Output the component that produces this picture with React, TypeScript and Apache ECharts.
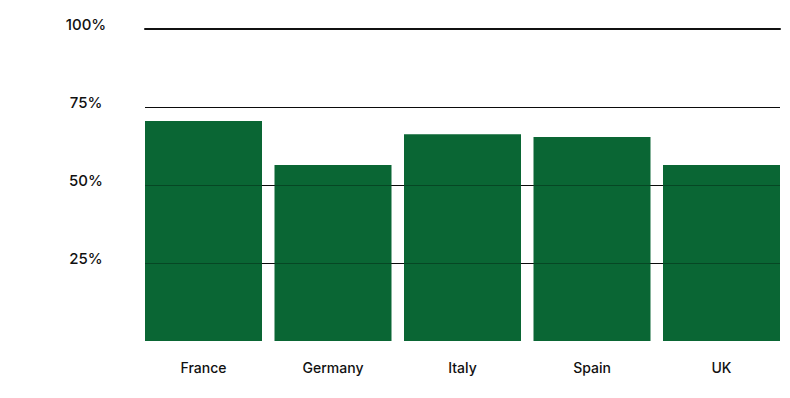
import React, { useEffect, useRef } from "react";
import * as echarts from "echarts";

const categories = ["France", "Germany", "Italy", "Spain", "UK"];
const values = [70.5, 56.4, 66.3, 65.4, 56.4];
const yTicks = [25, 50, 75, 100];

const font = "Inter, 'Noto Sans', sans-serif";

export default function App() {
  const ref = useRef<HTMLDivElement>(null);
  useEffect(() => {
    const chart = echarts.init(ref.current!, null, { renderer: "svg" });
    const labelFmt = (v: number) => (yTicks.includes(v) ? v + "%" : "");
    chart.setOption({
      animation: false,
      grid: [
        { left: 145, right: 10, top: 29, bottom: 57 },
        { left: 138.75, right: 3.75, top: 29, bottom: 57 },
      ],
      xAxis: [
        {
          gridIndex: 0,
          type: "value",
          min: 0,
          max: 1,
          position: "top",
          axisLine: { show: true, onZero: false, lineStyle: { color: "#111", width: 2 } },
          axisTick: { show: false },
          axisLabel: { show: false },
          splitLine: { show: false },
          z: 5,
        },
        {
          gridIndex: 1,
          type: "category",
          data: categories,
          axisLine: { show: false },
          axisTick: { show: false },
          axisLabel: {
            color: "#111",
            fontFamily: font,
            fontSize: 14,
            fontWeight: 500,
            margin: 19,
          },
        },
      ],
      yAxis: [
        {
          gridIndex: 0,
          type: "value",
          min: 0,
          max: 100,
          interval: 25,
          axisLine: { show: false },
          axisTick: { show: false },
          splitLine: {
            show: true,
            lineStyle: { color: ["transparent", "#111", "#111", "#111", "#111"], width: 1 },
          },
          axisLabel: {
            formatter: labelFmt,
            color: "#111",
            fontFamily: font,
            fontSize: 15,
            fontWeight: 500,
            align: "center",
            margin: 59,
            verticalAlign: "bottom",
            lineHeight: 10,
          },
        },
        {
          gridIndex: 0,
          type: "value",
          min: 0,
          max: 100,
          interval: 25,
          position: "left",
          axisLine: { show: false },
          axisTick: { show: false },
          axisLabel: { show: false },
          splitLine: {
            show: true,
            lineStyle: {
              color: ["transparent", "rgba(0,0,0,0.3)", "rgba(0,0,0,0.3)", "rgba(0,0,0,0.3)", "transparent"],
              width: 1,
            },
          },
          z: 4,
        },
        {
          gridIndex: 1,
          type: "value",
          min: 0,
          max: 100,
          show: false,
          splitLine: { show: false },
        },
      ],
      series: [
        {
          type: "bar",
          xAxisIndex: 1,
          yAxisIndex: 2,
          data: values,
          barWidth: 117,
          itemStyle: { color: "#0a6634" },
          z: 2,
        },
      ],
    });
    return () => chart.dispose();
  }, []);
  return <div ref={ref} style={{ width: 790, height: 398, position: "absolute", left: 0, top: 0 }} />;
}
